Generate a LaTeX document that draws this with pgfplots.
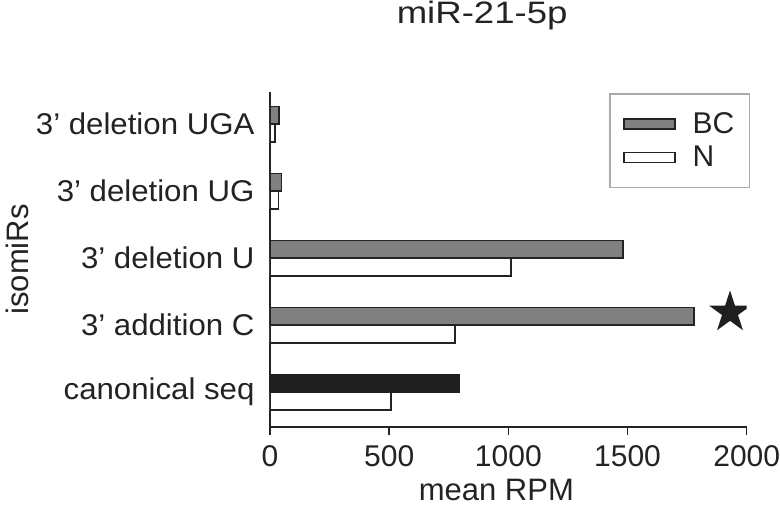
\documentclass[border=0pt]{standalone}
\usepackage{pgfplots}
\pgfplotsset{compat=1.18}
\usepackage{fontspec}
\setmainfont{Liberation Sans}
\newfontfamily\titlefont[FakeStretch=1.18]{Liberation Sans}
\newfontfamily\catfont[FakeStretch=1.04]{Liberation Sans}
\newfontfamily\numfont{Liberation Sans}
\newfontfamily\labfont{Liberation Sans}
\newfontfamily\legfont{Liberation Sans}
\usetikzlibrary{shapes.geometric}
\definecolor{bcgray}{RGB}{128,128,128}
\definecolor{legborder}{RGB}{170,170,170}
\definecolor{axcol}{RGB}{35,35,35}

\begin{document}
\begin{tikzpicture}[x=1pt,y=1pt]
\path[use as bounding box] (0,0) rectangle (780,509);
\begin{axis}[
  at={(270pt,82pt)}, anchor=south west,
  scale only axis, width=476.7pt, height=335pt,
  xbar, bar width=17.8pt,
  xmin=0, xmax=2000, ymin=-0.52, ymax=4.48,
  axis lines*=left,
  axis line style={line width=1.4pt, axcol},
  every tick/.style={line width=1.4pt, axcol},
  tick align=outside,
  xtick={0,500,1000,1500,2000},
  major tick length=8pt,
  ytick={0,1,2,3,4},
  ytick style={draw=none},
  yticklabels={canonical seq, 3’ addition C, 3’ deletion U, 3’ deletion UG, 3’ deletion UGA},
  yticklabel style={font=\catfont\fontsize{30}{34}\selectfont, anchor=east, xshift=-4pt, text=axcol},
  /pgf/number format/assume math mode=true,
  /pgf/number format/1000 sep={},
  xticklabel style={font=\numfont\fontsize{30}{34}\selectfont, text=axcol, yshift=-7pt},
  xlabel={mean RPM},
  xlabel style={font=\labfont\fontsize{31}{35}\selectfont, text=axcol, yshift=-6pt, xshift=-12pt},
  ylabel={isomiRs},
  ylabel style={font=\labfont\fontsize{31}{35}\selectfont, text=axcol},
  title={miR-21-5p},
  title style={at={(0.445,1)}, anchor=base, yshift=62pt, inner sep=0pt, font=\titlefont\fontsize{31}{35}\selectfont, text=axcol},
  legend style={at={(1.007,0.997)}, anchor=north east, draw=legborder, line width=1.5pt,
    font=\legfont\fontsize{30}{34}\selectfont, text=axcol, inner xsep=13pt, inner ysep=17pt,
    row sep=7pt, legend cell align=left,
    /tikz/every odd column/.append style={column sep=15pt}},
  legend image code/.code={\draw[#1, line width=1.5pt] (0pt,-5pt) rectangle (51pt,5pt);},
]
\addplot[bar shift=8.9pt, fill=bcgray, draw=axcol, line width=1.5pt] coordinates {
  (1779,1) (1480,2) (49,3) (38,4)};
\addlegendentry{BC}
\addplot[bar shift=-8.9pt, fill=white, draw=axcol, line width=1.5pt] coordinates {
  (508,0) (776,1) (1011,2) (35,3) (21,4)};
\addlegendentry{N}
\addplot[forget plot, bar shift=8.9pt, fill=black!88, draw=black!88, line width=1.5pt] coordinates {
  (794,0)};
\node[star, star points=5, star point ratio=2.618, fill=black!88, minimum size=44pt, inner sep=0pt] at (axis cs:1930,1.19) {};
\end{axis}
\end{tikzpicture}
\end{document}
